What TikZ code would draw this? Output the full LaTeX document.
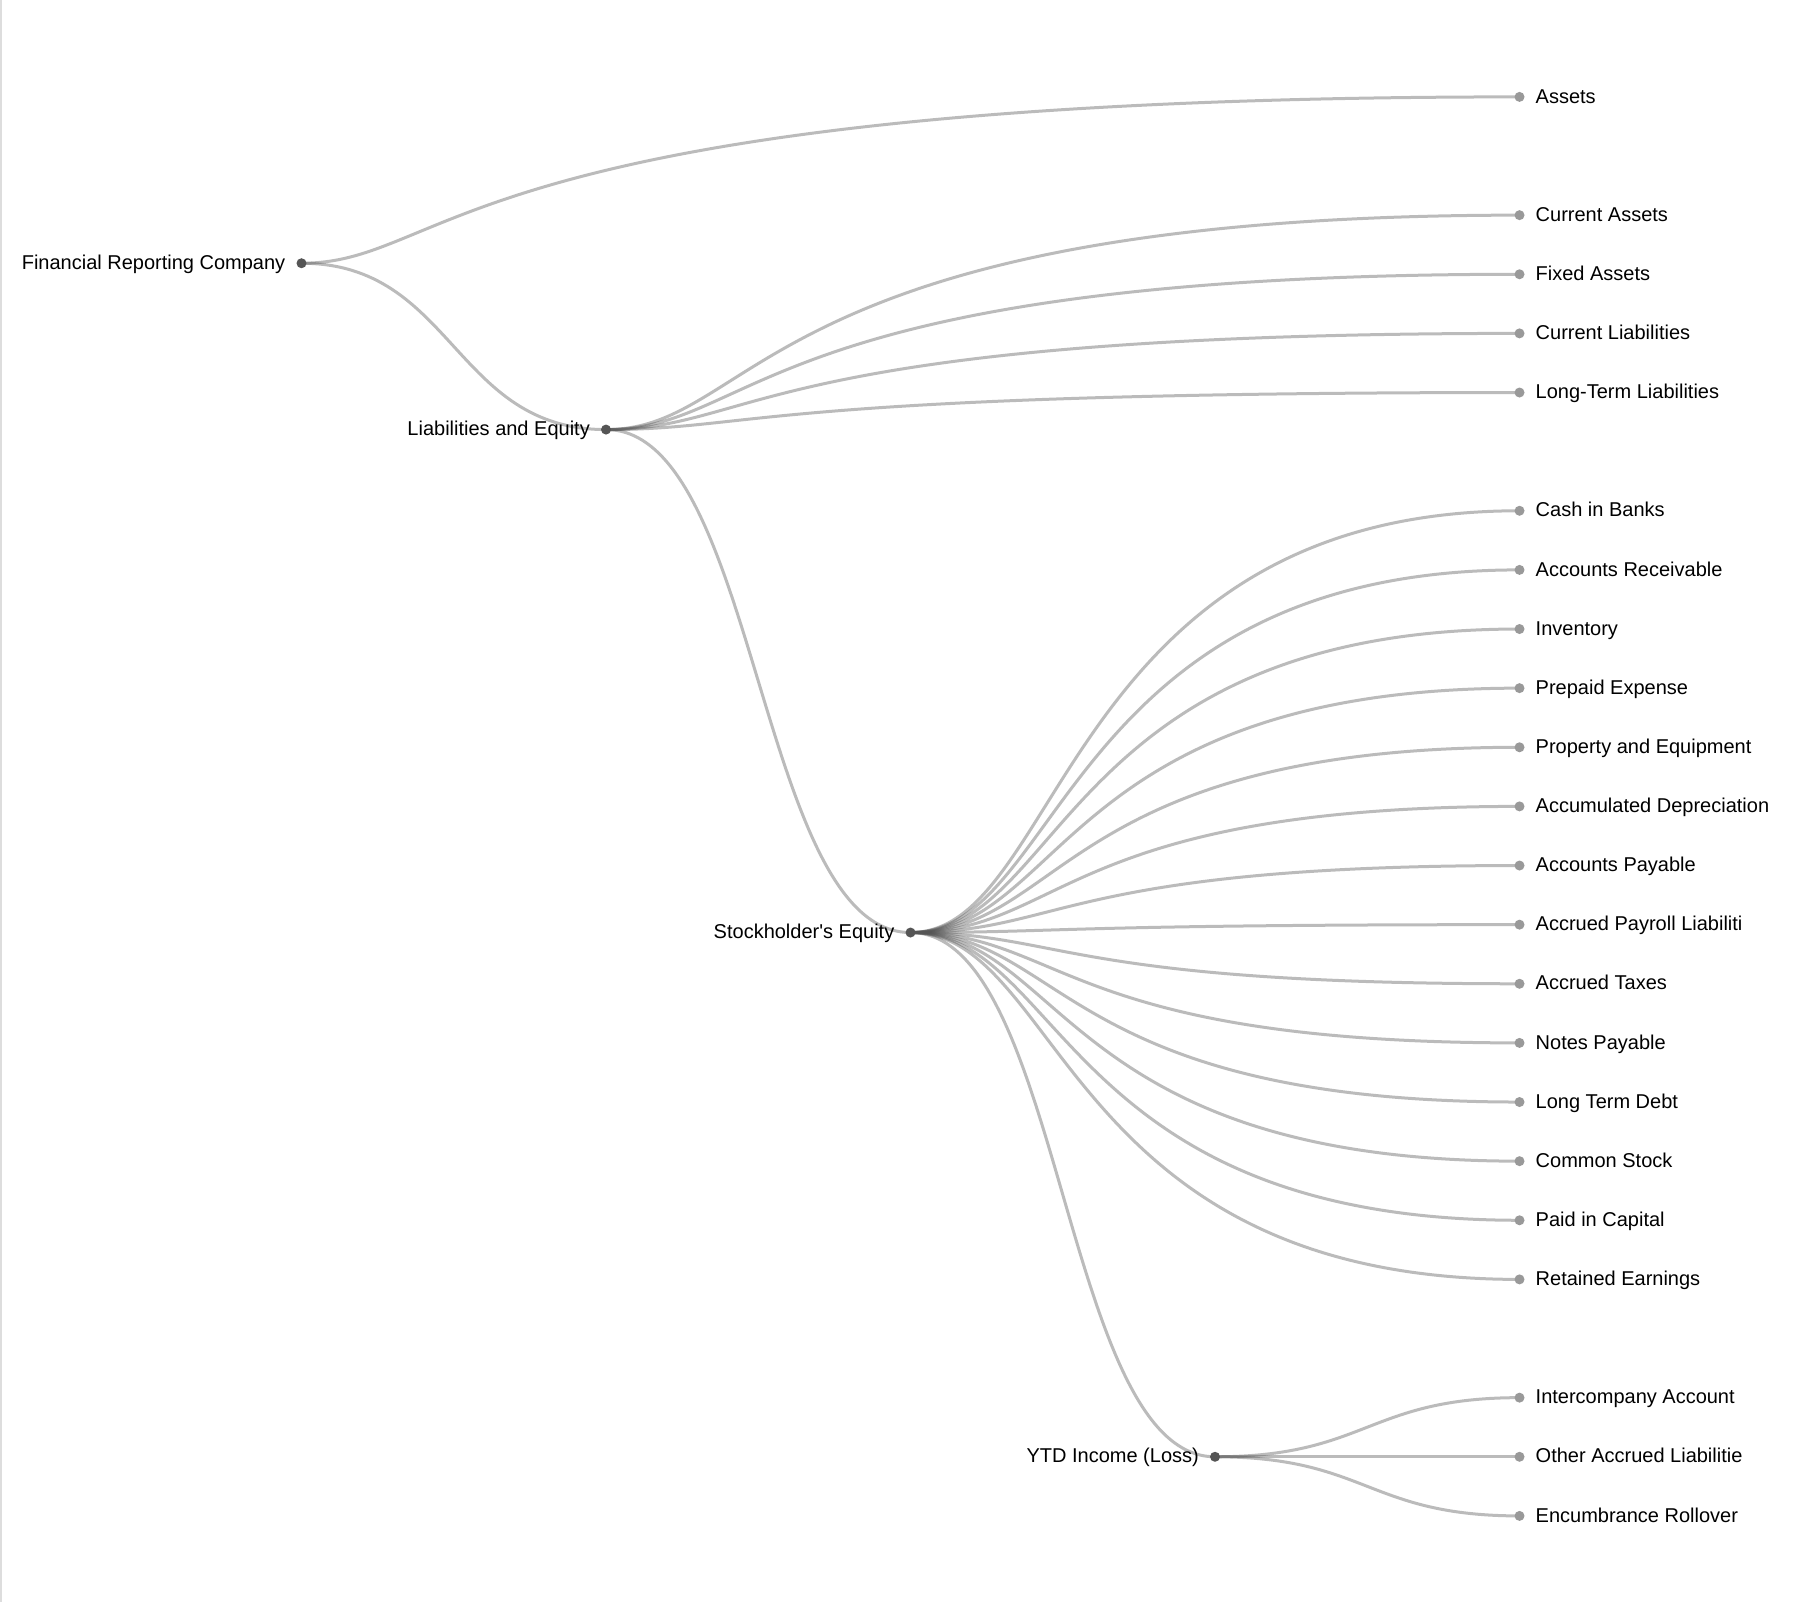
\documentclass[tikz,border=0pt]{standalone}
\usepackage{fontspec}
\setmainfont{Liberation Sans}[Ligatures=TeXOff]
\usetikzlibrary{calc,backgrounds}
\definecolor{innerc}{HTML}{555555}
\definecolor{leafc}{HTML}{999999}
\definecolor{linkc}{HTML}{555555}
\definecolor{edgec}{HTML}{DDDDDD}
\tikzset{
  inode/.style={circle,fill=innerc,inner sep=0pt,minimum size=10pt},
  lnode/.style={circle,fill=leafc,inner sep=0pt,minimum size=10pt},
  lbl/.style={inner sep=0pt,font=\fontsize{20}{24}\selectfont,text=black},
  llbl/.style={lbl,anchor=base west},
  ilbl/.style={lbl,anchor=base east},
  treelink/.style={draw=linkc,draw opacity=0.4,line width=3pt},
}
\newcommand\tlink[2]{\draw[treelink] (#1.center) .. controls ($(#1.center)+(152.25,0)$) and ($(#1.center |- #2.center)+(152.25,0)$) .. (#2.center);}
\newcommand\leafnode[3]{\node[lnode] (#1) at (1519.5,#2) {};\node[llbl] (#1-t) at (1535.5,#2+6.2) {#3};}
\newcommand\innernode[4]{\node[inode] (#1) at (#2,#3) {};\node[ilbl] (#1-t) at (#2-16,#3+6.2) {#4};}
\begin{document}
\begin{tikzpicture}[x=1pt,y=-1pt]
\useasboundingbox (0,0) rectangle (1812,1602);
% inner nodes
\innernode{root}{301.5}{263.24}{Financial Reporting Company}
\innernode{liab}{606}{429.58}{Liabilities and Equity}
\innernode{stock}{910.5}{932.53}{Stockholder's Equity}
\innernode{ytd}{1215}{1456.775}{YTD Income (Loss)}
% leaves
\leafnode{assets}{96.9}{Assets}
\leafnode{ca}{215.15}{Current Assets}
\leafnode{fa}{274.275}{Fixed Assets}
\leafnode{cl}{333.4}{Current Liabilities}
\leafnode{ltl}{392.525}{Long-Term Liabilities}
\leafnode{cash}{510.775}{Cash in Banks}
\leafnode{ar}{569.9}{Accounts Receivable}
\leafnode{inv}{629.025}{Inventory}
\leafnode{prep}{688.15}{Prepaid Expense}
\leafnode{prop}{747.275}{Property and Equipment}
\leafnode{accdep}{806.4}{Accumulated Depreciation}
\leafnode{ap}{865.525}{Accounts Payable}
\leafnode{accpay}{924.65}{Accrued Payroll Liabiliti}
\leafnode{acctax}{983.775}{Accrued Taxes}
\leafnode{notes}{1042.9}{Notes Payable}
\leafnode{ltd}{1102.025}{Long Term Debt}
\leafnode{cs}{1161.15}{Common Stock}
\leafnode{pic}{1220.275}{Paid in Capital}
\leafnode{re}{1279.4}{Retained Earnings}
\leafnode{interco}{1397.65}{Intercompany Account}
\leafnode{oal}{1456.775}{Other Accrued Liabilitie}
\leafnode{enc}{1515.9}{Encumbrance Rollover}
\begin{scope}[on background layer]
\fill[white] (0,0) rectangle (1812,1602);
\draw[edgec,line width=2pt] (1,0) -- (1,1602);
\tlink{root}{assets}
\tlink{root}{liab}
\tlink{liab}{ca}
\tlink{liab}{fa}
\tlink{liab}{cl}
\tlink{liab}{ltl}
\tlink{liab}{stock}
\tlink{stock}{cash}
\tlink{stock}{ar}
\tlink{stock}{inv}
\tlink{stock}{prep}
\tlink{stock}{prop}
\tlink{stock}{accdep}
\tlink{stock}{ap}
\tlink{stock}{accpay}
\tlink{stock}{acctax}
\tlink{stock}{notes}
\tlink{stock}{ltd}
\tlink{stock}{cs}
\tlink{stock}{pic}
\tlink{stock}{re}
\tlink{stock}{ytd}
\tlink{ytd}{interco}
\tlink{ytd}{oal}
\tlink{ytd}{enc}
\end{scope}
\end{tikzpicture}
\end{document}
